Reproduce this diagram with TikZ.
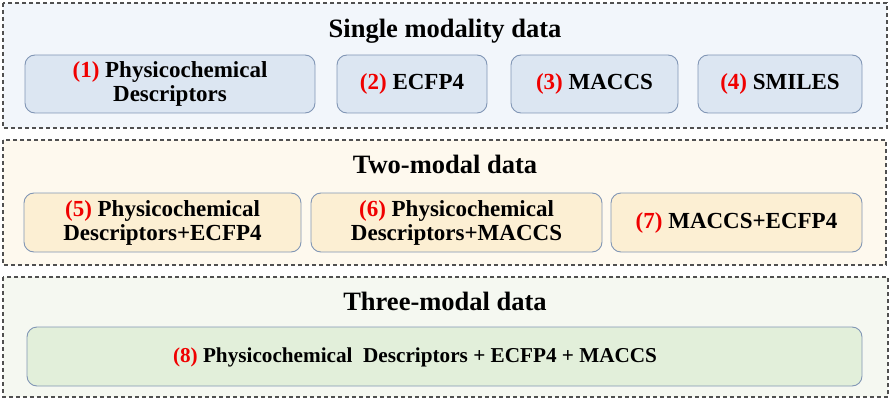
\documentclass[tikz,border=0pt]{standalone}
\usepackage{fontspec}
\setmainfont{Liberation Serif}
\definecolor{pOne}{HTML}{F2F6FB}
\definecolor{bOne}{HTML}{DCE6F2}
\definecolor{pTwo}{HTML}{FEF9EE}
\definecolor{bTwo}{HTML}{FCEFD3}
\definecolor{pThree}{HTML}{F5F8F1}
\definecolor{bThree}{HTML}{E2EFDA}
\definecolor{bord}{HTML}{8196B5}
\definecolor{numred}{HTML}{F00000}
\definecolor{dashgray}{HTML}{505050}
\newcommand{\nr}[1]{\textcolor{numred}{(#1)}}
\tikzset{
  panel/.style={draw=dashgray, line width=1.1pt, dash pattern=on 4pt off 3pt},
  ttl/.style={font=\fontsize{26.5}{28}\selectfont\bfseries, inner sep=0pt},
  itembox/.style={draw=bord, line width=0.9pt, rounded corners=10pt, align=center,
    font=\fontsize{23}{24}\selectfont\bfseries, inner sep=0pt},
}
\begin{document}
\begin{tikzpicture}[x=1pt,y=-1pt]
\useasboundingbox (0,0) rectangle (891,401);
\fill[white] (0,0) rectangle (891,401);
% panels
\draw[panel, fill=pOne] (3,3) rectangle (887,128);
\draw[panel, fill=pTwo] (3,140) rectangle (886,265);
\draw[panel, fill=pThree] (3,277) rectangle (888,397);
% titles
\node[ttl] (t1) at (445,31) {Single modality data};
\node[ttl] (t2) at (445,164) {Two-modal data};
\node[ttl] (t3) at (445,301) {Three-modal data};
% single modality
\node[itembox, fill=bOne, minimum width=290pt, minimum height=58pt] (b1) at (170,84) {\nr{1} Physicochemical\\Descriptors};
\node[itembox, fill=bOne, minimum width=150pt, minimum height=58pt] (b2) at (412,84) {\nr{2} ECFP4};
\node[itembox, fill=bOne, minimum width=167pt, minimum height=58pt] (b3) at (594.5,84) {\nr{3} MACCS};
\node[itembox, fill=bOne, minimum width=164pt, minimum height=58pt] (b4) at (780,84) {\nr{4} SMILES};
% two-modal
\node[itembox, fill=bTwo, minimum width=277pt, minimum height=59pt] (b5) at (162.5,222.5) {\nr{5} Physicochemical\\Descriptors+ECFP4};
\node[itembox, fill=bTwo, minimum width=291pt, minimum height=59pt] (b6) at (456.5,222.5) {\nr{6} Physicochemical\\Descriptors+MACCS};
\node[itembox, fill=bTwo, minimum width=251pt, minimum height=59pt] (b7) at (736.5,222.5) {\nr{7} MACCS+ECFP4};
% three-modal
\node[itembox, fill=bThree, minimum width=835pt, minimum height=59pt] (b8) at (444.5,356.5) {};
\node[font=\fontsize{21.2}{23}\selectfont\bfseries, inner sep=0pt] (l8) at (415,357) {\nr{8} Physicochemical\ \ Descriptors + ECFP4 + MACCS};
\end{tikzpicture}
\end{document}
